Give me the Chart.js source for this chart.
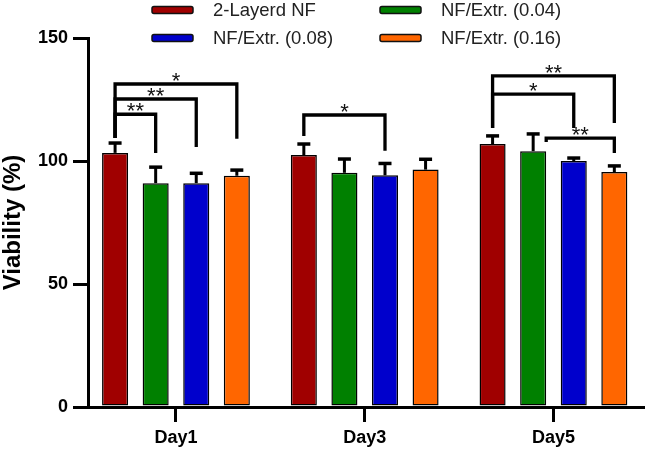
<!DOCTYPE html>
<html>
<head>
<meta charset="utf-8">
<script src="https://cdn.jsdelivr.net/npm/chart.js@4.4.1/dist/chart.umd.min.js"></script>
<style>
  html, body { margin: 0; padding: 0; background: #fff; }
  #wrap { width: 645px; height: 452px; }
</style>
</head>
<body>
<div id="wrap"><canvas id="chart" width="645" height="452"></canvas></div>
<script>
// data
const categories = ["Day1", "Day3", "Day5"];
const seriesNames = ["2-Layerd NF", "NF/Extr. (0.04)", "NF/Extr. (0.08)", "NF/Extr. (0.16)"];
const layered = [103.3, 102.4, 106.9];
const extr004 = [91.0, 95.2, 104.0];
const extr008 = [91.0, 94.2, 100.0];
const extr016 = [94.0, 96.5, 95.5];
const layeredErr = [4.0, 4.5, 3.3];
const extr004Err = [6.5, 5.6, 7.0];
const extr008Err = [4.0, 4.8, 1.2];
const extr016Err = [2.3, 4.2, 2.5];
const yTicks = [0, 50, 100, 150];

// significance brackets: [day, fromBar, toBar, top, leftEnd, rightEnd, mark]
const brackets = [
  [0, 0, 3, 131.3, 109.3, 109.0, "*"],
  [0, 0, 2, 125.2, 109.3, 105.7, "**"],
  [0, 0, 1, 119.0, 109.3, 103.3, "**"],
  [1, 0, 2, 118.7, 110.2, 104.2, "*"],
  [2, 0, 3, 134.6, 113.4, 115.4, "**"],
  [2, 0, 2, 127.2, 113.4, 113.4, "*"],
  [2, 1, 3, 109.3, 107.7, 103.3, "**"],
];

const colors = ["#a00000", "#008000", "#0000cc", "#ff6600"];
const values = [layered, extr004, extr008, extr016];
const errors = [layeredErr, extr004Err, extr008Err, extr016Err];

const FONT = "'Liberation Sans', Arial, Helvetica, sans-serif";

const errorBars = {
  id: "errorBars",
  afterDatasetsDraw(chart) {
    const ctx = chart.ctx;
    const y = chart.scales.y;
    ctx.save();
    ctx.strokeStyle = "#000";
    chart.data.datasets.forEach((ds, i) => {
      chart.getDatasetMeta(i).data.forEach((bar, j) => {
        const top = y.getPixelForValue(ds.data[j].y + ds.err[j]);
        ctx.lineWidth = 3;
        ctx.beginPath();
        ctx.moveTo(bar.x, bar.y);
        ctx.lineTo(bar.x, top);
        ctx.stroke();
        ctx.lineWidth = 3.5;
        ctx.beginPath();
        ctx.moveTo(bar.x - 6.5, top);
        ctx.lineTo(bar.x + 6.5, top);
        ctx.stroke();
      });
    });
    ctx.restore();
  }
};

const sigBrackets = {
  id: "sigBrackets",
  afterDatasetsDraw(chart) {
    const ctx = chart.ctx;
    const y = chart.scales.y;
    ctx.save();
    ctx.strokeStyle = "#000";
    ctx.lineWidth = 3.3;
    ctx.lineJoin = "miter";
    ctx.lineCap = "butt";
    brackets.forEach(([day, a, b, top, leftEnd, rightEnd, mark]) => {
      const barA = chart.getDatasetMeta(a).data[day];
      const barB = chart.getDatasetMeta(b).data[day];
      const ds = chart.data.datasets[a];
      let x1 = barA.x;
      // leg would run into the error bar: start it from the bar's right edge
      if (leftEnd < ds.data[day].y + ds.err[day]) x1 = barA.x + barA.width / 2;
      const x2 = barB.x;
      const yt = y.getPixelForValue(top);
      ctx.beginPath();
      ctx.moveTo(x1, y.getPixelForValue(leftEnd));
      ctx.lineTo(x1, yt);
      ctx.lineTo(x2, yt);
      ctx.lineTo(x2, y.getPixelForValue(rightEnd));
      ctx.stroke();

      ctx.font = "22px " + FONT;
      ctx.fillStyle = "#111";
      ctx.textAlign = "center";
      ctx.textBaseline = "alphabetic";
      const m = ctx.measureText(mark);
      const mid = (m.actualBoundingBoxAscent - m.actualBoundingBoxDescent) / 2;
      ctx.fillText(mark, (x1 + x2) / 2, yt - 7 + mid);
    });
    ctx.restore();
  }
};

const gridLegend = {
  id: "gridLegend",
  afterDraw(chart) {
    const ctx = chart.ctx;
    const colX = [152, 380];
    const rowY = [10, 38];
    ctx.save();
    ctx.font = "18.5px " + FONT;
    ctx.textBaseline = "middle";
    ctx.textAlign = "left";
    chart.data.datasets.forEach((ds, i) => {
      const x = colX[i % 2];
      const yy = rowY[Math.floor(i / 2)];
      ctx.beginPath();
      ctx.roundRect(x, yy - 3.5, 41, 7, 2);
      ctx.fillStyle = ds.backgroundColor;
      ctx.fill();
      ctx.lineWidth = 1.5;
      ctx.strokeStyle = "#111";
      ctx.stroke();
      ctx.fillStyle = "#222";
      ctx.fillText(ds.label, x + 61, yy + 1);
    });
    ctx.restore();
  }
};

new Chart(document.getElementById("chart"), {
  type: "bar",
  data: {
    datasets: seriesNames.map((name, i) => ({
      label: name,
      data: values[i].map((v, j) => ({ x: j, y: v })),
      err: errors[i],
      backgroundColor: colors[i],
      borderColor: "#000",
      borderWidth: 1.5,
      borderSkipped: false,
      categoryPercentage: 0.86,
      barPercentage: 0.642
    }))
  },
  options: {
    responsive: false,
    animation: false,
    devicePixelRatio: 1,
    layout: { padding: { top: 38, right: 0, left: 0, bottom: 0 } },
    plugins: {
      legend: { display: false },
      tooltip: { enabled: false }
    },
    scales: {
      x: {
        type: "linear",
        offset: false,
        min: -0.466,
        max: 2.485,
        afterFit(scale) { scale.height = 45; },
        afterBuildTicks(scale) { scale.ticks = categories.map((c, i) => ({ value: i })); },
        border: { display: true, color: "#000", width: 3 },
        grid: {
          offset: false,
          drawOnChartArea: false,
          drawTicks: true,
          tickLength: 15,
          lineWidth: 3,
          color: "#000"
        },
        ticks: {
          color: "#000",
          padding: 5,
          maxRotation: 0,
          callback: (v) => categories[v],
          font: { family: FONT, size: 18, weight: "bold" }
        }
      },
      y: {
        min: 0,
        max: 150,
        afterFit(scale) { scale.width = 88; },
        afterBuildTicks(scale) { scale.ticks = yTicks.map(v => ({ value: v })); },
        border: { display: true, color: "#000", width: 3 },
        grid: {
          drawOnChartArea: false,
          drawTicks: true,
          tickLength: 15,
          lineWidth: 3,
          color: "#000"
        },
        ticks: {
          color: "#000",
          padding: 5,
          font: { family: FONT, size: 18, weight: "bold" }
        },
        title: {
          display: true,
          text: "Viability (%)",
          color: "#000",
          padding: { top: 0, bottom: 0 },
          font: { family: FONT, size: 24, weight: "bold", lineHeight: 1.1 }
        }
      }
    }
  },
  plugins: [errorBars, sigBrackets, gridLegend]
});
</script>
</body>
</html>
